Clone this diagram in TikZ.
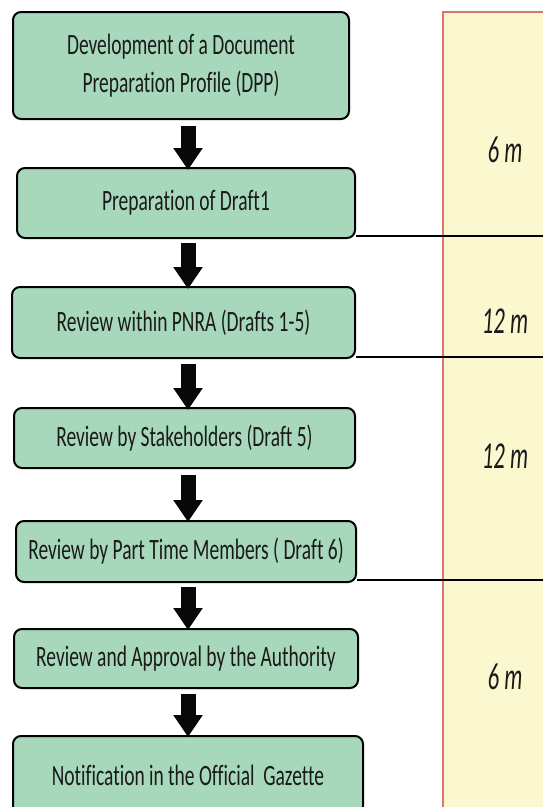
\documentclass[tikz,border=0pt]{standalone}
\usepackage{fontspec}
\usetikzlibrary{arrows.meta,calc}
\newfontfamily\boxfont[FakeStretch=0.66,Ligatures=NoCommon]{Carlito}
\newfontfamily\lblfont[FakeStretch=0.60,Ligatures=NoCommon]{Carlito}
\definecolor{boxgreen}{HTML}{A8D8BC}
\definecolor{panelyellow}{HTML}{FBF7CF}
\definecolor{panelred}{HTML}{D9776F}
\definecolor{inkdark}{HTML}{1A1A1A}
\tikzset{
  stepbox/.style={draw=black, line width=2pt, fill=boxgreen, rounded corners=8pt,
    text=inkdark, align=center, inner sep=0pt,
    font=\boxfont\fontsize{29.5}{38}\selectfont},
  blockarrow/.style={line width=15pt, draw=black!97, -{Triangle[width=28pt,length=22pt]}},
  hline/.style={draw=black, line width=1.4pt},
  durlabel/.style={font=\lblfont\itshape\fontsize{38}{40}\selectfont, text=inkdark, inner sep=0pt}
}
\begin{document}
\begin{tikzpicture}[x=1pt,y=-1pt]
\useasboundingbox (0,0) rectangle (543,807);
\clip (0,0) rectangle (543,807);
% panel
\fill[panelyellow] (443,12) rectangle (560,830);
\draw[panelred, line width=2pt] (443,830) -- (443,12) -- (560,12);
\coordinate (ax) at (188,0);
\coordinate (re) at (560,0);
% boxes
\node[stepbox, minimum width=336pt, minimum height=107pt] (b1) at (181,65.5)
  {Development of a Document\\Preparation Profile (DPP)};
\node[stepbox, minimum width=338pt, minimum height=70pt] (b2) at (186,203)
  {Preparation of Draft1};
\node[stepbox, minimum width=343pt, minimum height=71pt] (b3) at (183.5,322.5)
  {Review within PNRA (Drafts 1-5)};
\node[stepbox, minimum width=341pt, minimum height=60pt] (b4) at (184.5,438)
  {Review by Stakeholders (Draft 5)};
\node[stepbox, minimum width=340pt, minimum height=61pt] (b5) at (186,551.5)
  {Review by Part Time Members ( Draft 6)};
\node[stepbox, minimum width=344pt, minimum height=59pt] (b6) at (186,658.5)
  {Review and Approval by the Authority};
\node[stepbox, minimum width=350pt, minimum height=78pt] (b7) at (188,775)
  {Notification in the Official\ \ Gazette};
% arrows
\draw[blockarrow] ([yshift=-6pt]b1.south -| ax) -- ([yshift=-3pt]b2.north -| ax);
\draw[blockarrow] ([yshift=-4pt]b2.south -| ax) -- ([yshift=-3pt]b3.north -| ax);
\draw[blockarrow] ([yshift=-5pt]b3.south -| ax) -- ([yshift=-3pt]b4.north -| ax);
\draw[blockarrow] ([yshift=-6pt]b4.south -| ax) -- ([yshift=-2pt]b5.north -| ax);
\draw[blockarrow] ([yshift=-4pt]b5.south -| ax) -- ([yshift=-2pt]b6.north -| ax);
\draw[blockarrow] ([yshift=-5pt]b6.south -| ax) -- ([yshift=-2pt]b7.north -| ax);
% separators
\draw[hline] ([yshift=3pt]b2.south east) -- ([yshift=3pt]b2.south east -| re);
\draw[hline] ([yshift=2pt]b3.south east) -- ([yshift=2pt]b3.south east -| re);
\draw[hline] ([yshift=3pt]b5.south east) -- ([yshift=3pt]b5.south east -| re);
% durations
\node[durlabel] (d1) at (505,150) {6 m};
\node[durlabel] (d2) at (505,321) {12 m};
\node[durlabel] (d3) at (505,456) {12 m};
\node[durlabel] (d4) at (505,677) {6 m};
\end{tikzpicture}
\end{document}
